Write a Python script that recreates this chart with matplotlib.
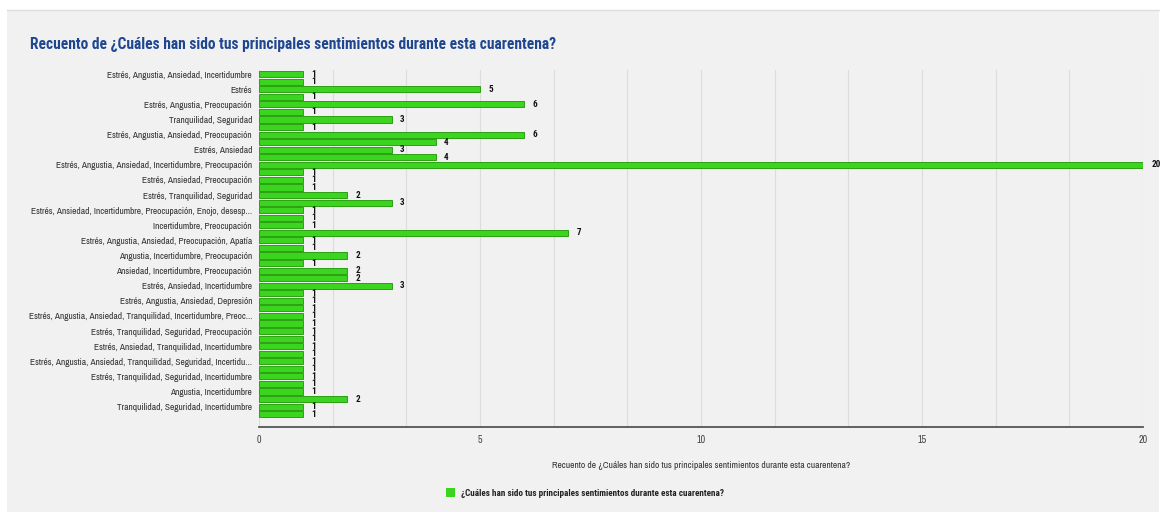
import matplotlib
matplotlib.use("Agg")
import matplotlib.pyplot as plt
from matplotlib.patches import Rectangle
from matplotlib.ticker import MultipleLocator

# ---- data (top to bottom); only every other category label is visible in the reference ----
categories = [
    "Estrés, Angustia, Ansiedad, Incertidumbre", "",
    "Estrés", "",
    "Estrés, Angustia, Preocupación", "",
    "Tranquilidad, Seguridad", "",
    "Estrés, Angustia, Ansiedad, Preocupación", "",
    "Estrés, Ansiedad", "",
    "Estrés, Angustia, Ansiedad, Incertidumbre, Preocupación", "",
    "Estrés, Ansiedad, Preocupación", "",
    "Estrés, Tranquilidad, Seguridad", "",
    "Estrés, Ansiedad, Incertidumbre, Preocupación, Enojo, desesp...", "",
    "Incertidumbre, Preocupación", "",
    "Estrés, Angustia, Ansiedad, Preocupación, Apatía", "",
    "Angustia, Incertidumbre, Preocupación", "",
    "Ansiedad, Incertidumbre, Preocupación", "",
    "Estrés, Ansiedad, Incertidumbre", "",
    "Estrés, Angustia, Ansiedad, Depresión", "",
    "Estrés, Angustia, Ansiedad, Tranquilidad, Incertidumbre, Preoc...", "",
    "Estrés, Tranquilidad, Seguridad, Preocupación", "",
    "Estrés, Ansiedad, Tranquilidad, Incertidumbre", "",
    "Estrés, Angustia, Ansiedad, Tranquilidad, Seguridad, Incertidu...", "",
    "Estrés, Tranquilidad, Seguridad, Incertidumbre", "",
    "Angustia, Incertidumbre", "",
    "Tranquilidad, Seguridad, Incertidumbre", "",
]
counts = [
    1, 1, 5, 1, 6, 1, 3, 1, 6, 4,
    3, 4, 20, 1, 1, 1, 2, 3, 1, 1,
    1, 7, 1, 1, 2, 1, 2, 2, 3, 1,
    1, 1, 1, 1, 1, 1, 1, 1, 1, 1,
    1, 1, 1, 2, 1, 1,
]
x_ticks = [0, 5, 10, 15, 20]
title = "Recuento de ¿Cuáles han sido tus principales sentimientos durante esta cuarentena?"
x_title = "Recuento de ¿Cuáles han sido tus principales sentimientos durante esta cuarentena?"
series_name = "¿Cuáles han sido tus principales sentimientos durante esta cuarentena?"

FONT = ["Archivo Narrow", "Liberation Sans", "DejaVu Sans"]
BOLD = ["Roboto Condensed", "Asap Condensed", "Archivo Narrow", "DejaVu Sans"]
plt.rcParams["font.family"] = FONT

W, H = 1161, 514
fig = plt.figure(figsize=(W / 100, H / 100), dpi=100)
fig.patch.set_facecolor("white")

# gray card background
fig.add_artist(Rectangle((7 / W, 1 - 512 / H), (1159 - 7) / W, (512 - 10) / H,
                         transform=fig.transFigure, facecolor="#f1f1f1",
                         edgecolor="none", zorder=0))
fig.add_artist(plt.Line2D([7 / W, 1159 / W], [1 - 10 / H, 1 - 10 / H],
                          transform=fig.transFigure, color="#dedede", lw=1, zorder=0))

left, right, top, bottom = 259, 1143, 70, 427
ax = fig.add_axes([left / W, 1 - bottom / H, (right - left) / W, (bottom - top) / H])
ax.set_facecolor("none")

n = len(counts)
ypos = list(range(n))
ax.barh(ypos, counts, height=0.8, color="#3bd41e", edgecolor="#2b9f14",
        linewidth=0.7, zorder=3)

for y, v in zip(ypos, counts):
    ax.annotate(str(v), (v, y), xytext=(6, 0), textcoords="offset points",
                va="center", ha="left", fontsize=6.6, fontweight="bold",
                family=BOLD, color="#111111", zorder=4, annotation_clip=False)

ax.set_xlim(0, 20)
ax.set_ylim(n - 1 + 1.7, -0.55)
ax.set_xticks(x_ticks)
ax.set_xticklabels([str(t) for t in x_ticks], fontsize=7.2, color="#444444")
ax.xaxis.set_minor_locator(MultipleLocator(5 / 3))
ax.grid(axis="x", which="both", color="#dcdcdc", lw=0.8, zorder=1)
ax.tick_params(axis="x", which="both", length=0, pad=6)

ax.set_yticks(ypos[::2])
ax.set_yticklabels(categories[::2], fontsize=6.75, color="#333333")
ax.tick_params(axis="y", length=0, pad=5)

for s in ["top", "right", "left"]:
    ax.spines[s].set_visible(False)
ax.spines["bottom"].set_color("#555555")
ax.spines["bottom"].set_linewidth(1.3)
ax.spines["bottom"].set_zorder(5)

fig.text(30 / W, 1 - 45 / H, title, fontsize=11.2, fontweight="bold", family=BOLD,
         color="#1f4690", va="center", ha="left")
fig.text(((left + right) / 2) / W, 1 - 466 / H, x_title, fontsize=6.8,
         color="#333333", va="center", ha="center")

# legend
fig.add_artist(Rectangle((446 / W, 1 - 497 / H), 9 / W, 9 / H,
                         transform=fig.transFigure, facecolor="#3bd41e",
                         edgecolor="none"))
fig.text(461 / W, 1 - 493 / H, series_name, fontsize=6.6, fontweight="bold",
         family=BOLD, color="#222222", va="center", ha="left")

fig.savefig("out.png", dpi=100)
